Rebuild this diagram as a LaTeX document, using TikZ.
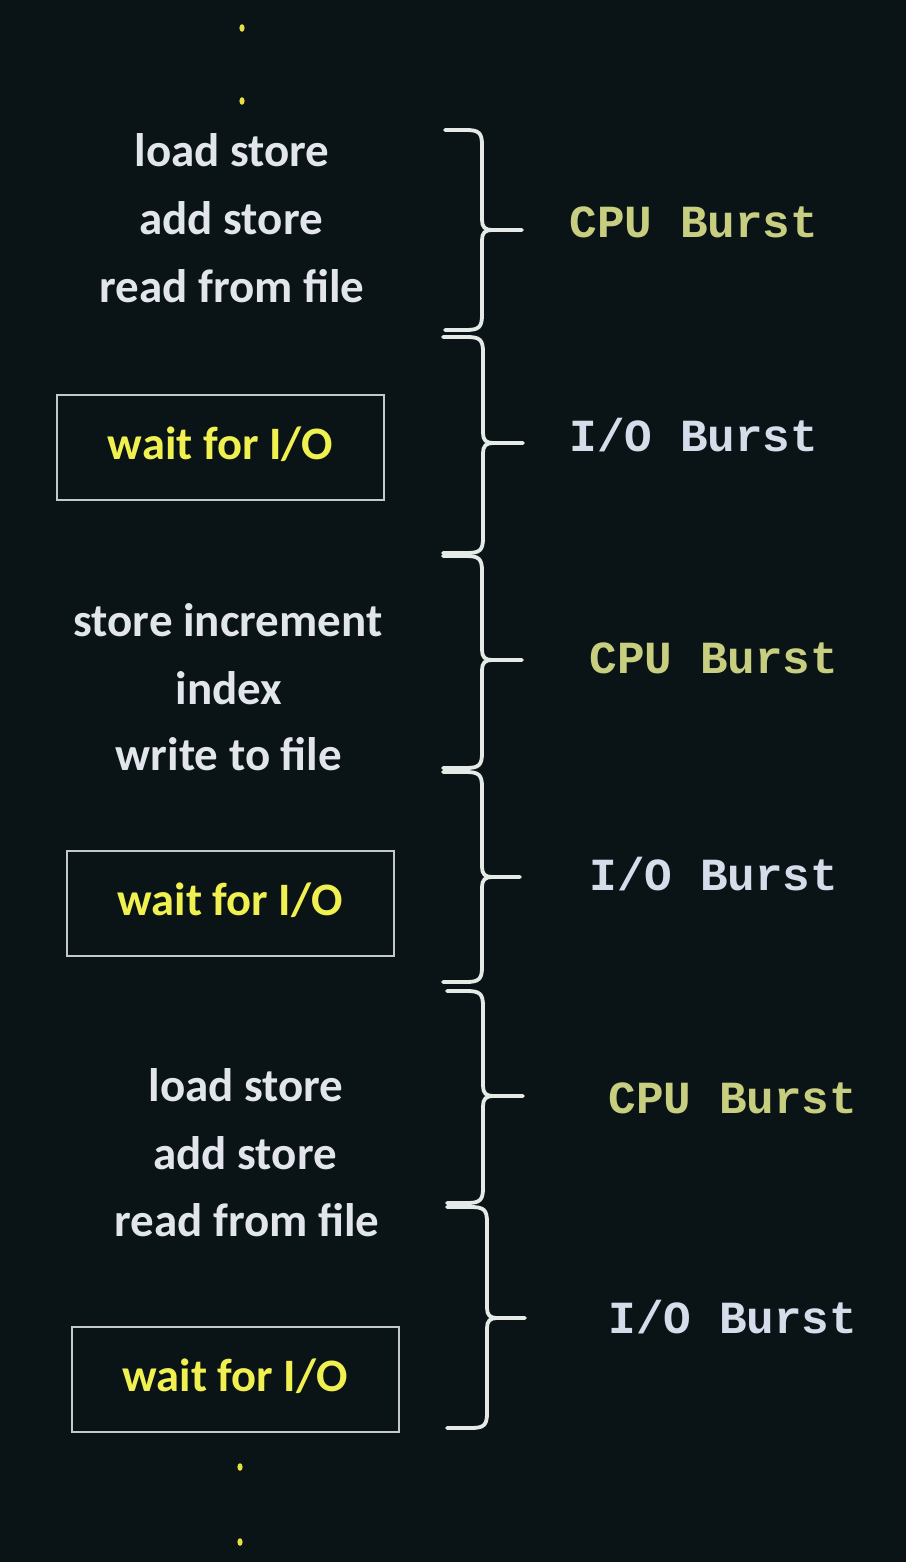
\documentclass[tikz,border=0pt]{standalone}
\usepackage{fontspec}
\newfontfamily\txtfont{Carlito}
\newfontfamily\monofont{Liberation Mono}
\definecolor{bgcol}{HTML}{0A1416}
\definecolor{txtcol}{HTML}{E2E6EC}
\definecolor{waitcol}{HTML}{F0F050}
\definecolor{boxcol}{HTML}{C4C8C8}
\definecolor{cpucol}{HTML}{C8CE80}
\definecolor{iocol}{HTML}{D6DCEA}
\definecolor{bracecol}{HTML}{E6EAE6}
\definecolor{dotcol}{HTML}{E6E040}
\newcommand\burstbrace[7]{%
  % #1 name, #2 xl, #3 xv, #4 ytop, #5 ytip, #6 ybot, #7 xtip
  \coordinate (#1-tip) at (#7,#5);
  \draw[bracestyle] (#2,#4) -- ({#3-16},#4) .. controls ({#3-3},#4) and (#3,{#4+3}) .. (#3,{#4+15})
     -- (#3,{#5-10}) .. controls (#3,{#5-3}) and ({#3+3},#5) .. ({#3+10},#5) -- (#1-tip);
  \draw[bracestyle] ({#3+10},#5) .. controls ({#3+3},#5) and (#3,{#5+3}) .. (#3,{#5+10})
     -- (#3,{#6-15}) .. controls (#3,{#6-3}) and ({#3-3},#6) .. ({#3-16},#6) -- (#2,#6);
}
\begin{document}
\begin{tikzpicture}[x=1pt,y=-1pt,
  bracestyle/.style={draw=bracecol,line width=3.8pt,line cap=round,line join=round},
  codeline/.style={anchor=base,inner sep=0pt,text=txtcol,font=\txtfont\bfseries\fontsize{47}{52}\selectfont},
  waitbox/.style={draw=boxcol,line width=2pt,minimum width=327pt,minimum height=105pt,inner sep=0pt,text=waitcol,text depth=8pt,font=\txtfont\bfseries\fontsize{46.5}{52}\selectfont},
  cpulabel/.style={anchor=base,inner sep=0pt,text=cpucol,font=\monofont\bfseries\fontsize{46}{50}\selectfont},
  iolabel/.style={anchor=base,inner sep=0pt,text=iocol,font=\monofont\bfseries\fontsize{46}{50}\selectfont}
]
\fill[bgcol] (0,0) rectangle (906,1562);
\useasboundingbox (0,0) rectangle (906,1562);

% dots
\fill[dotcol] (242,28) ellipse (2.6 and 3.8);
\fill[dotcol] (242,101) ellipse (2.6 and 3.8);
\fill[dotcol] (240,1467) ellipse (2.6 and 3.8);
\fill[dotcol] (240,1542) ellipse (2.6 and 3.8);

% block 1
\node[codeline] (l1a) at (232,167) {load store};
\node[codeline] (l1b) at (231,235) {add store};
\node[codeline] (l1c) at (232,302) {read from file};
\node[waitbox] (w1) at (220.5,447.5) {wait for I/O};

% block 2
\node[codeline] (l2a) at (228,636) {store increment};
\node[codeline] (l2b) at (229,704) {index};
\node[codeline] (l2c) at (229,770) {write to file};
\node[waitbox] (w2) at (230,903.5) {wait for I/O};

% block 3
\node[codeline] (l3a) at (246,1101) {load store};
\node[codeline] (l3b) at (245,1169) {add store};
\node[codeline] (l3c) at (247,1236) {read from file};
\node[waitbox] (w3) at (235,1379.5) {wait for I/O};

% braces
\burstbrace{b1}{445}{482}{130}{230}{330}{522}
\burstbrace{b2}{443}{483}{337}{443}{553}{523}
\burstbrace{b3}{443}{482}{556}{660}{768}{522}
\burstbrace{b4}{443}{482}{772}{877}{982}{520}
\burstbrace{b5}{447}{483}{991}{1096}{1203}{523}
\burstbrace{b6}{447}{487}{1207}{1318}{1428}{525}

% labels
\node[cpulabel] (c1) at (694,238) {CPU Burst};
\node[iolabel] (i1) at (694,451) {I/O Burst};
\node[cpulabel] (c2) at (714,673) {CPU Burst};
\node[iolabel] (i2) at (714,890) {I/O Burst};
\node[cpulabel] (c3) at (733,1113) {CPU Burst};
\node[iolabel] (i3) at (733,1333) {I/O Burst};
\end{tikzpicture}
\end{document}
